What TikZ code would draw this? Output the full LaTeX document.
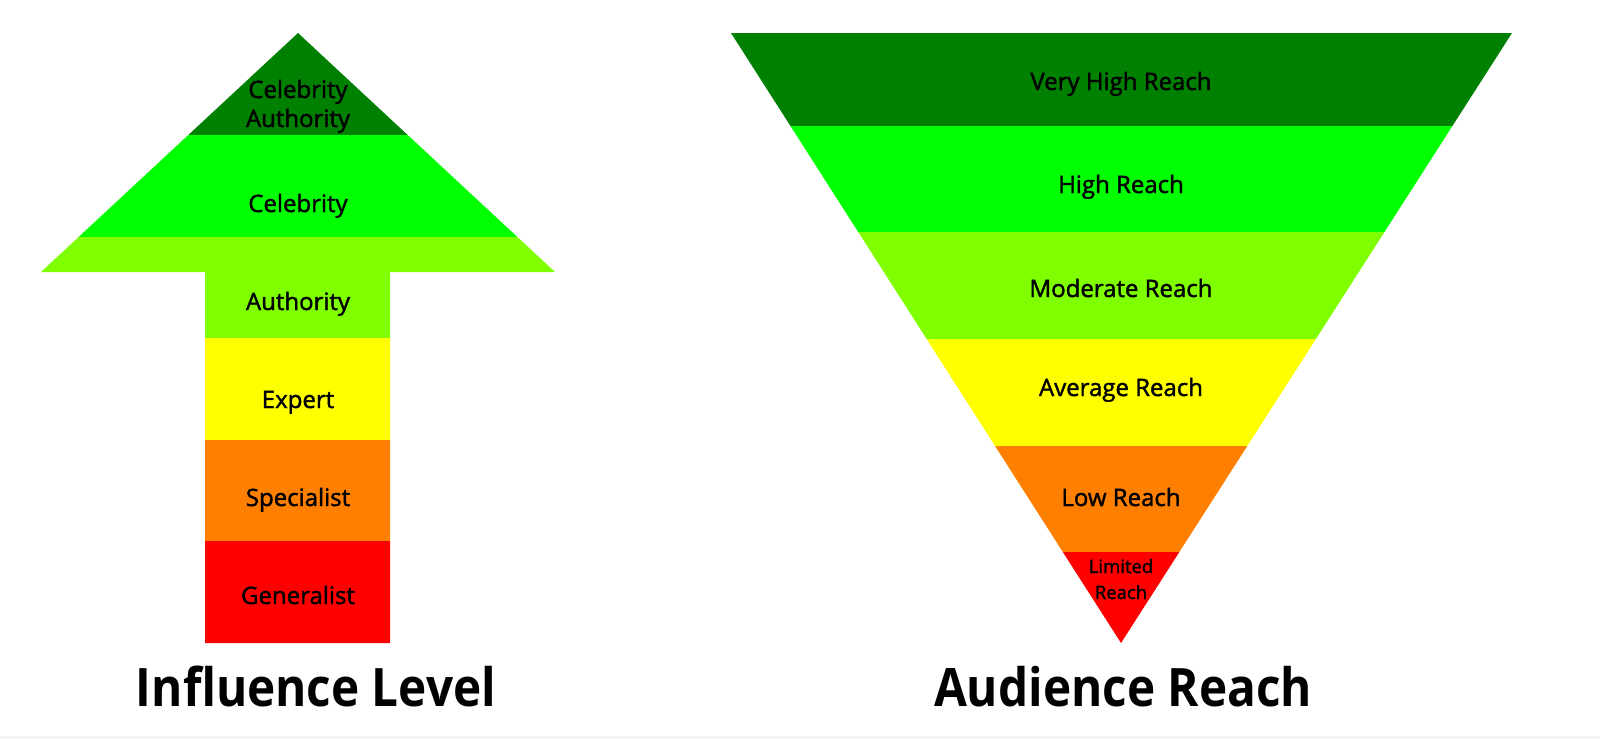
\documentclass[tikz,border=0pt]{standalone}
\usepackage{fontspec}
\setmainfont{Open Sans}
\newfontfamily\lblfont[FakeBold=1.6]{Open Sans}
\newfontfamily\titlefont[FakeStretch=0.9]{Open Sans}
\begin{document}
\begin{tikzpicture}[x=1pt,y=-1pt,
  lbl/.style={anchor=base,inner sep=0pt,font=\lblfont\fontsize{24}{28}\selectfont},
  small/.style={anchor=base,inner sep=0pt,font=\lblfont\fontsize{18.5}{22}\selectfont},
  title/.style={anchor=base,inner sep=0pt,font=\titlefont\bfseries\fontsize{53}{60}\selectfont}]
\definecolor{dkgreen}{RGB}{0,128,0}
\definecolor{brgreen}{RGB}{0,255,0}
\definecolor{lime}{RGB}{128,255,0}
\definecolor{yel}{RGB}{255,255,0}
\definecolor{org}{RGB}{255,128,0}
\definecolor{rd}{RGB}{255,0,0}
\useasboundingbox (0,0) rectangle (1600,739);
\fill[gray!8] (0,736) rectangle (1600,739);

% arrow of influence levels, cut into horizontal bands
\begin{scope}
  \clip (298,33) -- (555,272) -- (390,272) -- (390,643) -- (205,643) -- (205,272) -- (41,272) -- cycle;
  \fill[dkgreen] (0,30) rectangle (600,135);
  \fill[brgreen] (0,135) rectangle (600,237);
  \fill[lime] (0,237) rectangle (600,338);
  \fill[yel] (0,338) rectangle (600,440);
  \fill[org] (0,440) rectangle (600,541);
  \fill[rd] (0,541) rectangle (600,646);
\end{scope}
\node[lbl] (ca1) at (298,98) {Celebrity};
\node[lbl] (ca2) at (298,127) {Authority};
\node[lbl] (cel) at (298,212) {Celebrity};
\node[lbl] (aut) at (298,310) {Authority};
\node[lbl] (exp) at (298,408) {Expert};
\node[lbl] (spe) at (298,506) {Specialist};
\node[lbl] (gen) at (298,604) {Generalist};
\node[title] (inf) at (316,706) {Influence Level};

% funnel of audience reach
\begin{scope}
  \clip (731,33) -- (1512,33) -- (1121,643) -- cycle;
  \fill[dkgreen] (700,30) rectangle (1550,126);
  \fill[brgreen] (700,126) rectangle (1550,232);
  \fill[lime] (700,232) rectangle (1550,339);
  \fill[yel] (700,339) rectangle (1550,446);
  \fill[org] (700,446) rectangle (1550,552);
  \fill[rd] (700,552) rectangle (1550,646);
\end{scope}
\node[lbl] (vhr) at (1121,90) {Very High Reach};
\node[lbl] (hr) at (1121,193) {High Reach};
\node[lbl] (mr) at (1121,297) {Moderate Reach};
\node[lbl] (ar) at (1121,396) {Average Reach};
\node[lbl] (lr) at (1121,506) {Low Reach};
\node[small] (li1) at (1121,573) {Limited};
\node[small] (li2) at (1121,599) {Reach};
\node[title] (aud) at (1123,706) {Audience Reach};
\end{tikzpicture}
\end{document}
